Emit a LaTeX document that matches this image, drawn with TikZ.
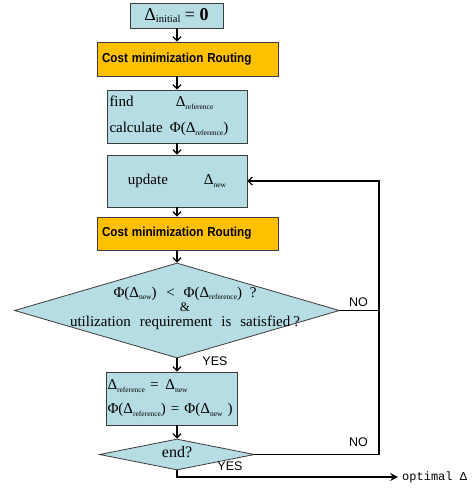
\documentclass[tikz,border=0pt]{standalone}
\usepackage{graphicx}
\usepackage{fontspec}
\setmainfont{Liberation Serif}
\setsansfont{Liberation Sans}
\setmonofont{Liberation Mono}
\usetikzlibrary{shapes.geometric,arrows.meta}
\definecolor{lblue}{RGB}{183,221,228}
\definecolor{org}{RGB}{255,192,0}
\definecolor{edgegray}{RGB}{60,60,60}
\newcommand{\lowsub}[2][7.5]{\raisebox{-2.8pt}{\fontsize{#1}{#1}\selectfont #2}}
\newcommand{\condensed}[1]{\scalebox{0.9}[1]{#1}}
\begin{document}
\begin{tikzpicture}[x=1pt,y=-1pt,
  bluebox/.style={draw=edgegray, fill=lblue, line width=0.8pt, inner sep=0pt, font=\fontsize{15}{17}\selectfont},
  orangebox/.style={draw=edgegray, fill=org, line width=0.8pt, minimum width=181pt, minimum height=34pt, inner sep=0pt, text width=171pt, align=left, font=\sffamily\bfseries\fontsize{13}{15}\selectfont},
  dia/.style={diamond, draw=edgegray, fill=lblue, line width=0.8pt, inner sep=0pt},
  conn/.style={line width=1.3pt, draw=black},
  arr/.style={conn, -{Straight Barb[length=4pt,width=8pt,line width=1.3pt]}},
  lbl/.style={font=\sffamily\fontsize{12.5}{14}\selectfont, inner sep=0pt}]
\fill[white] (0,0) rectangle (474,489);
\useasboundingbox (0,0) rectangle (474,489);
\coordinate (axis) at (177,0);
\coordinate (rx) at (379,0);

\node[bluebox, minimum width=93pt, minimum height=25pt] (b1) at (176.5,15.5)
  {\fontsize{18}{20}\selectfont Δ\lowsub[10.5]{initial} = \textbf{0}};
\node[orangebox] (o1) at (187.5,59) {\condensed{Cost minimization Routing}};
\node[bluebox, minimum width=140pt, minimum height=53pt, text width=135pt, align=left] (b3) at (177,116.5)
  {\begin{tabular}{@{}l@{\hspace{7pt}}l@{}}find & \hspace{6pt}Δ\lowsub{reference}\\[9pt]
   calculate & Φ(Δ\lowsub{reference})\end{tabular}};
\node[bluebox, minimum width=140pt, minimum height=52pt] (b4) at (177,181)
  {update\hspace{36pt}Δ\lowsub{new}};
\node[orangebox, minimum height=33pt] (o2) at (187.5,233.5) {\condensed{Cost minimization Routing}};
\node[dia, minimum width=325pt, minimum height=95pt] (d1) at (177,310.5) {};
\node[inner sep=0pt, align=center, font=\fontsize{15}{14.5}\selectfont] (t1) at (185,308)
  {Φ(Δ\lowsub{new})\hspace{6pt} < \hspace{5pt}Φ(Δ\lowsub{reference})\hspace{4pt} ?\\
   {\fontsize{13}{13}\selectfont\&}\\
   utilization\hspace{9pt}requirement\hspace{9pt}is\hspace{9pt}satisfied\hspace{3pt}?};
\node[bluebox, minimum width=131pt, minimum height=53pt, text width=128pt, align=left] (b5) at (171.5,398.5)
  {Δ\lowsub{reference} = \hspace{2pt}Δ\lowsub{new}\\[7pt]
   Φ(Δ\lowsub{reference}) = Φ(Δ\lowsub{new} )};
\node[dia, minimum width=155pt, minimum height=31pt] (d2) at (177,454.5) {};
\node[inner sep=0pt, font=\fontsize{16}{18}\selectfont] (t2) at (177,452) {end?};
\node[anchor=west, inner sep=0pt, font=\ttfamily\fontsize{12}{14}\selectfont] (res) at (402,477) {optimal Δ};

\node[lbl] (no1) at (358.5,302) {NO};
\node[lbl] (no2) at (358.5,442) {NO};
\node[lbl] (yes1) at (215,361) {YES};
\node[lbl] (yes2) at (230,466) {YES};

\draw[arr] (axis |- b1.south) -- (axis |- o1.north);
\draw[arr] (axis |- o1.south) -- (axis |- b3.north);
\draw[arr] (axis |- b3.south) -- (axis |- b4.north);
\draw[arr] (axis |- b4.south) -- (axis |- o2.north);
\draw[arr] (axis |- o2.south) -- (d1.north);
\draw[arr] (d1.south) -- (axis |- b5.north);
\draw[arr] (axis |- b5.south) -- (d2.north);
\draw[conn] (d1.east) -- (rx |- d1.east);
\draw[arr] (d2.east) -- (rx |- d2.east) -- (rx |- b4.east) -- (b4.east);
\draw[conn, -{Stealth[length=8pt,width=8pt,inset=3pt]}] (d2.south) |- ([xshift=-4pt]res.west);
\end{tikzpicture}
\end{document}
